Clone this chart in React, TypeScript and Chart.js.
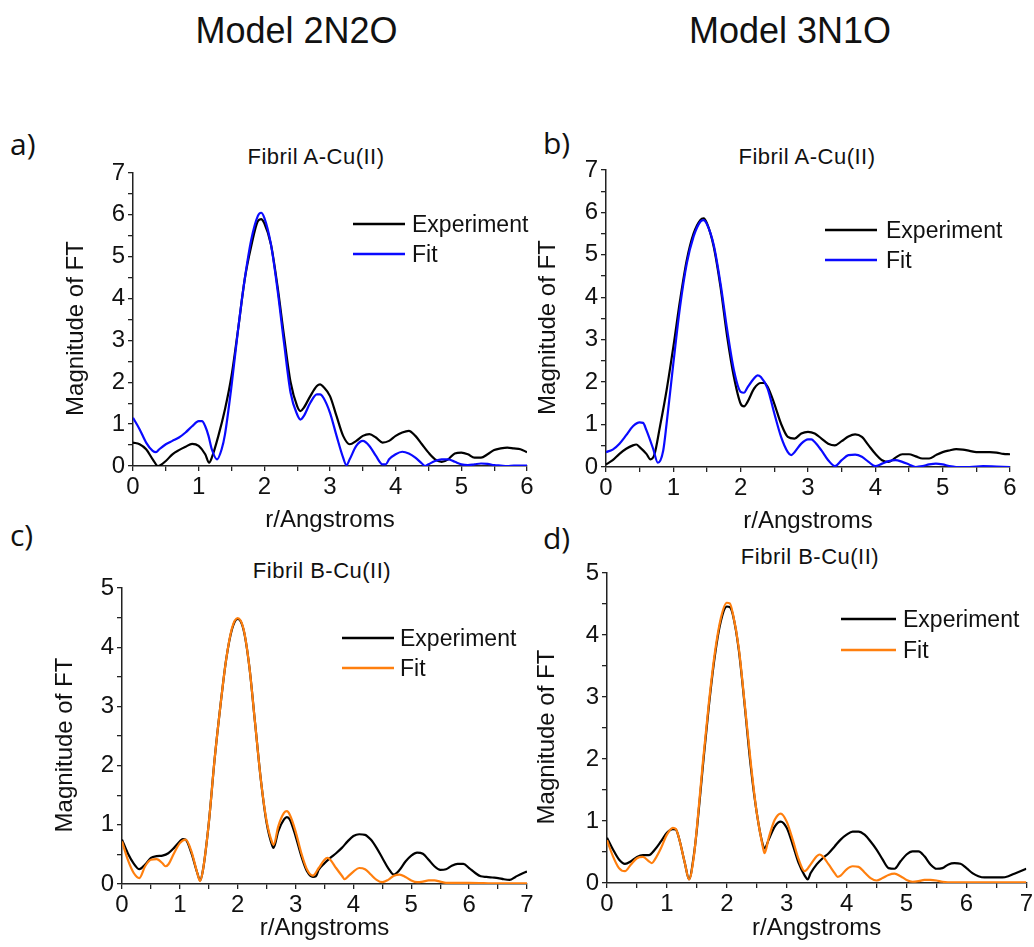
import React, { useEffect, useRef } from 'react';
import { Chart, registerables } from 'chart.js';

Chart.register(...registerables);

// ---------------- Data ----------------
const columnTitles = ['Model 2N2O', 'Model 3N1O'];
const panelLetters = ['a)', 'b)', 'c)', 'd)'];
const panelSubtitles = ['Fibril A-Cu(II)', 'Fibril A-Cu(II)', 'Fibril B-Cu(II)', 'Fibril B-Cu(II)'];
const seriesNames = ['Experiment', 'Fit'];
const xAxisTitle = 'r/Angstroms';
const yAxisTitle = 'Magnitude of FT';

// Panel a (2N2O, Fibril A)
const aExpR = [0,0.1,0.2,0.3,0.38,0.5,0.6,0.7,0.8,0.9,1.0,1.1,1.16,1.2,1.3,1.4,1.5,1.6,1.7,1.8,1.9,1.95,2.0,2.1,2.2,2.3,2.4,2.5,2.55,2.6,2.7,2.8,2.85,2.9,3.0,3.1,3.2,3.3,3.4,3.5,3.6,3.7,3.8,3.9,4.0,4.1,4.2,4.3,4.4,4.5,4.6,4.7,4.8,4.9,5.0,5.1,5.2,5.3,5.4,5.5,5.6,5.7,5.8,5.9,6.0];
const aExpY = [0.56,0.52,0.4,0.16,0.0,0.12,0.28,0.38,0.46,0.53,0.48,0.28,0.08,0.2,0.72,1.35,2.15,3.26,4.45,5.25,5.85,5.9,5.8,5.3,4.3,3.1,2.0,1.43,1.31,1.39,1.67,1.91,1.95,1.89,1.67,1.19,0.72,0.52,0.6,0.72,0.76,0.68,0.56,0.6,0.72,0.8,0.84,0.72,0.52,0.32,0.16,0.1,0.16,0.3,0.32,0.28,0.2,0.2,0.28,0.38,0.42,0.44,0.42,0.4,0.33];
const aFitR = [0,0.1,0.2,0.3,0.35,0.4,0.5,0.6,0.7,0.8,0.9,1.0,1.05,1.1,1.15,1.2,1.28,1.35,1.4,1.5,1.6,1.7,1.8,1.9,1.95,2.0,2.1,2.2,2.3,2.4,2.5,2.55,2.6,2.7,2.8,2.85,2.9,3.0,3.1,3.2,3.25,3.3,3.4,3.5,3.6,3.7,3.8,3.85,3.9,4.0,4.1,4.2,4.3,4.4,4.45,4.5,4.6,4.7,4.8,4.9,5.0,5.1,5.2,5.3,5.4,5.5,5.6,5.7,5.8,6.0];
const aFitY = [1.15,0.88,0.56,0.36,0.33,0.4,0.52,0.6,0.68,0.8,0.95,1.07,1.07,0.95,0.72,0.4,0.16,0.4,0.75,1.91,3.26,4.45,5.4,5.97,6.05,5.93,5.3,4.22,2.94,1.75,1.23,1.11,1.19,1.51,1.71,1.71,1.63,1.27,0.72,0.2,0.02,0.16,0.48,0.6,0.48,0.24,0.04,0.04,0.16,0.28,0.34,0.3,0.2,0.06,0,0.04,0.12,0.16,0.16,0.1,0.04,0.02,0.04,0.06,0.05,0.02,0.01,0,0.01,0.01];

// Panel b (3N1O, Fibril A)
const bExpR = [0,0.1,0.2,0.3,0.4,0.45,0.5,0.6,0.66,0.72,0.8,0.9,1.0,1.1,1.2,1.3,1.4,1.45,1.5,1.6,1.7,1.8,1.9,2.0,2.05,2.1,2.2,2.3,2.35,2.4,2.5,2.6,2.7,2.8,2.9,3.0,3.1,3.2,3.3,3.4,3.5,3.6,3.7,3.8,3.9,4.0,4.1,4.2,4.3,4.4,4.5,4.6,4.7,4.8,4.9,5.0,5.1,5.2,5.3,5.4,5.5,5.6,5.7,5.8,5.9,6.0];
const bExpY = [0.06,0.16,0.31,0.43,0.51,0.53,0.47,0.31,0.18,0.3,0.94,1.81,2.83,3.93,4.88,5.5,5.82,5.86,5.74,5.19,4.25,3.07,2.12,1.49,1.43,1.53,1.85,1.98,1.98,1.89,1.49,1.02,0.71,0.67,0.79,0.83,0.79,0.67,0.55,0.51,0.61,0.72,0.77,0.71,0.51,0.31,0.16,0.12,0.22,0.3,0.3,0.25,0.2,0.2,0.28,0.35,0.39,0.42,0.41,0.38,0.35,0.35,0.35,0.34,0.31,0.3];
const bFitR = [0,0.1,0.2,0.3,0.4,0.5,0.55,0.6,0.7,0.77,0.85,0.9,1.0,1.1,1.2,1.3,1.4,1.45,1.5,1.6,1.7,1.8,1.9,2.0,2.05,2.1,2.2,2.25,2.3,2.4,2.5,2.6,2.7,2.75,2.8,2.9,3.0,3.05,3.1,3.2,3.3,3.4,3.5,3.6,3.7,3.8,3.9,4.0,4.1,4.2,4.3,4.4,4.5,4.6,4.7,4.8,4.9,5.0,5.1,5.2,5.4,5.6,5.8,6.0];
const bFitY = [0.35,0.41,0.55,0.75,0.96,1.05,1.04,0.87,0.43,0.1,0.39,1.02,2.44,3.78,4.8,5.43,5.78,5.82,5.72,5.23,4.33,3.23,2.28,1.77,1.75,1.87,2.09,2.16,2.12,1.85,1.26,0.71,0.35,0.28,0.35,0.55,0.65,0.65,0.59,0.39,0.16,0.02,0.16,0.28,0.29,0.24,0.12,0.02,0.08,0.14,0.16,0.12,0.06,0.0,0.02,0.06,0.08,0.06,0.02,0.0,0.0,0.02,0.01,0.0];

// Panel c (2N2O, Fibril B)
const cExpR = [0,0.1,0.2,0.3,0.4,0.5,0.6,0.7,0.8,0.9,1.0,1.05,1.1,1.2,1.3,1.35,1.4,1.5,1.6,1.7,1.8,1.9,2.0,2.1,2.2,2.3,2.4,2.5,2.6,2.62,2.7,2.8,2.85,2.9,3.0,3.1,3.2,3.3,3.35,3.4,3.5,3.6,3.7,3.8,3.9,4.0,4.1,4.2,4.3,4.4,4.5,4.6,4.7,4.8,4.9,5.0,5.1,5.2,5.3,5.4,5.5,5.6,5.7,5.8,5.9,6.0,6.1,6.2,6.3,6.4,6.5,6.6,6.7,6.8,6.9,7.0];
const cExpY = [0.75,0.52,0.35,0.25,0.33,0.44,0.47,0.48,0.52,0.61,0.72,0.76,0.75,0.52,0.19,0.06,0.24,1.03,2.1,3.0,3.79,4.3,4.48,4.3,3.68,2.72,1.76,1.03,0.64,0.61,0.89,1.09,1.13,1.09,0.81,0.47,0.21,0.12,0.13,0.24,0.35,0.44,0.52,0.61,0.72,0.81,0.84,0.83,0.75,0.61,0.44,0.27,0.16,0.24,0.38,0.48,0.53,0.51,0.41,0.3,0.24,0.25,0.31,0.34,0.34,0.27,0.19,0.13,0.12,0.11,0.1,0.08,0.07,0.12,0.17,0.21];
const cFitR = [0,0.1,0.2,0.3,0.4,0.5,0.6,0.7,0.75,0.8,0.9,1.0,1.1,1.2,1.3,1.35,1.4,1.5,1.6,1.7,1.8,1.9,2.0,2.1,2.2,2.3,2.4,2.5,2.6,2.62,2.7,2.8,2.85,2.9,3.0,3.1,3.2,3.3,3.4,3.5,3.55,3.6,3.7,3.8,3.85,3.9,4.0,4.1,4.2,4.3,4.4,4.5,4.6,4.7,4.8,4.9,5.0,5.1,5.2,5.3,5.4,5.5,5.6,5.8,6.0,6.5,7.0];
const cFitY = [0.72,0.41,0.19,0.1,0.3,0.41,0.42,0.35,0.3,0.33,0.52,0.69,0.75,0.55,0.19,0.05,0.24,1.03,2.1,3.0,3.79,4.32,4.49,4.31,3.68,2.72,1.76,1.06,0.69,0.66,0.97,1.2,1.23,1.17,0.89,0.52,0.24,0.14,0.27,0.41,0.44,0.41,0.27,0.14,0.08,0.12,0.21,0.27,0.25,0.16,0.07,0.03,0.07,0.14,0.16,0.12,0.06,0.03,0.04,0.06,0.06,0.04,0.02,0.02,0.02,0.01,0.01];

// Panel d (3N1O, Fibril B)
const dExpR = [0,0.1,0.2,0.3,0.4,0.5,0.6,0.7,0.8,0.9,1.0,1.1,1.15,1.2,1.3,1.37,1.45,1.5,1.6,1.7,1.8,1.9,2.0,2.05,2.1,2.2,2.3,2.4,2.5,2.6,2.63,2.7,2.8,2.9,3.0,3.1,3.2,3.3,3.35,3.4,3.5,3.6,3.7,3.8,3.9,4.0,4.1,4.2,4.3,4.4,4.5,4.6,4.7,4.8,4.9,5.0,5.1,5.2,5.3,5.4,5.5,5.6,5.7,5.8,5.9,6.0,6.1,6.2,6.3,6.4,6.5,6.6,6.7,6.8,6.9,7.0];
const dExpY = [0.73,0.54,0.38,0.31,0.35,0.42,0.45,0.45,0.54,0.67,0.81,0.87,0.86,0.73,0.32,0.06,0.45,0.86,1.88,2.85,3.66,4.22,4.46,4.45,4.33,3.76,2.85,1.88,1.13,0.62,0.56,0.7,0.91,0.99,0.89,0.62,0.32,0.12,0.06,0.16,0.3,0.4,0.48,0.59,0.7,0.78,0.83,0.83,0.78,0.67,0.54,0.38,0.24,0.23,0.35,0.46,0.51,0.51,0.43,0.3,0.23,0.24,0.3,0.32,0.31,0.24,0.16,0.11,0.09,0.09,0.09,0.09,0.11,0.15,0.19,0.23];
const dFitR = [0,0.1,0.2,0.3,0.4,0.5,0.6,0.7,0.75,0.8,0.9,1.0,1.1,1.15,1.2,1.3,1.37,1.45,1.5,1.6,1.7,1.8,1.9,2.0,2.05,2.1,2.2,2.3,2.4,2.5,2.6,2.63,2.7,2.8,2.9,3.0,3.1,3.2,3.3,3.4,3.5,3.55,3.6,3.7,3.8,3.85,3.9,4.0,4.1,4.2,4.3,4.4,4.5,4.6,4.7,4.8,4.9,5.0,5.1,5.2,5.3,5.4,5.5,5.6,5.8,6.0,6.5,7.0];
const dFitY = [0.69,0.43,0.24,0.19,0.3,0.4,0.42,0.35,0.32,0.38,0.56,0.78,0.89,0.87,0.73,0.32,0.06,0.43,0.89,1.94,2.9,3.71,4.27,4.52,4.51,4.35,3.79,2.88,1.94,1.13,0.59,0.48,0.73,1.02,1.12,0.99,0.7,0.38,0.19,0.3,0.43,0.46,0.43,0.3,0.16,0.1,0.12,0.22,0.27,0.26,0.17,0.08,0.04,0.08,0.13,0.15,0.11,0.05,0.02,0.03,0.05,0.05,0.04,0.02,0.01,0.01,0.01,0.01];

// Axis ranges / ticks
const xMaxTop = 6;
const yMaxTop = 7;
const xMaxBottom = 7;
const yMaxBottom = 5;
const tickStep = 0.5;

// ---------------- Styling / layout ----------------
const FONT = '"Liberation Sans", Arial, sans-serif';
const FONT2 = '"Open Sans", "Liberation Sans", sans-serif';
const EXP_COLOR = '#000000';
const BLUE = '#0a0aff';
const ORANGE = '#ff7f0e';

type PanelCfg = {
  l: number; t: number; r: number; b: number;
  xMax: number; yMax: number;
  hx: number; yTitleX: number; yTitleDy: number; xTitlePad: number; padR: number;
  legend: { x1: number; x2: number; tx: number; y: number; gap: number };
  exp: [number[], number[]];
  fit: [number[], number[]];
  fitColor: string;
};

const panels: PanelCfg[] = [
  { l: 133, t: 173, r: 527, b: 466, xMax: xMaxTop, yMax: yMaxTop, hx: 70, yTitleX: 28, yTitleDy: 9, xTitlePad: 4, padR: 20,
    legend: { x1: 220, x2: 272, tx: 279, y: 51, gap: 30 }, exp: [aExpR, aExpY], fit: [aFitR, aFitY], fitColor: BLUE },
  { l: 606, t: 170, r: 1010, b: 467, xMax: xMaxTop, yMax: yMaxTop, hx: 70, yTitleX: 27, yTitleDy: 9, xTitlePad: 4, padR: 20,
    legend: { x1: 219, x2: 271, tx: 280, y: 60, gap: 30 }, exp: [bExpR, bExpY], fit: [bFitR, bFitY], fitColor: BLUE },
  { l: 122, t: 588, r: 527, b: 884, xMax: xMaxBottom, yMax: yMaxBottom, hx: 60, yTitleX: 28, yTitleDy: 9, xTitlePad: 4, padR: 20,
    legend: { x1: 220, x2: 272, tx: 278, y: 50, gap: 30 }, exp: [cExpR, cExpY], fit: [cFitR, cFitY], fitColor: ORANGE },
  { l: 607, t: 573, r: 1027, b: 883, xMax: xMaxBottom, yMax: yMaxBottom, hx: 60, yTitleX: 25, yTitleDy: 9, xTitlePad: 3, padR: 8,
    legend: { x1: 234, x2: 289, tx: 296, y: 46, gap: 31 }, exp: [dExpR, dExpY], fit: [dFitR, dFitY], fitColor: ORANGE },
];

const Y_AXIS_W = 85;
const PAD_TOP = 20;

function zip(xs: number[], ys: number[]) {
  const n = Math.min(xs.length, ys.length);
  const out: { x: number; y: number }[] = [];
  for (let i = 0; i < n; i++) out.push({ x: xs[i], y: ys[i] });
  return out;
}

function Panel({ cfg }: { cfg: PanelCfg }) {
  const ref = useRef<HTMLCanvasElement | null>(null);
  const left = cfg.l - Y_AXIS_W;
  const top = cfg.t - PAD_TOP;
  const width = cfg.r - cfg.l + Y_AXIS_W + cfg.padR;
  const height = cfg.b - cfg.t + PAD_TOP + cfg.hx;

  useEffect(() => {
    if (!ref.current) return;
    const tickCb = (v: any) => (Number.isInteger(Number(v)) ? String(v) : '');
    const decorPlugin = {
      id: 'panelDecor',
      afterDatasetsDraw(chart: any) {
        const { ctx, chartArea } = chart;
        const L = cfg.legend;
        // legend
        chart.data.datasets.forEach((ds: any, i: number) => {
          const y = chartArea.top + L.y + i * L.gap;
          ctx.save();
          ctx.strokeStyle = ds.borderColor;
          ctx.lineWidth = 2.5;
          ctx.beginPath();
          ctx.moveTo(chartArea.left + L.x1, y);
          ctx.lineTo(chartArea.left + L.x2, y);
          ctx.stroke();
          ctx.fillStyle = '#111';
          ctx.font = `23px ${FONT}`;
          ctx.textBaseline = 'alphabetic';
          ctx.textAlign = 'left';
          ctx.fillText(ds.label, chartArea.left + L.tx, y + 8);
          ctx.restore();
        });
        // y-axis title
        ctx.save();
        ctx.translate(chartArea.left - Y_AXIS_W + cfg.yTitleX, (chartArea.top + chartArea.bottom) / 2 + cfg.yTitleDy);
        ctx.rotate(-Math.PI / 2);
        ctx.fillStyle = '#111';
        ctx.font = `24px ${FONT}`;
        ctx.textAlign = 'center';
        ctx.textBaseline = 'middle';
        ctx.fillText(yAxisTitle, 0, 0);
        ctx.restore();
      },
    };

    const chart = new Chart(ref.current, {
      type: 'line',
      data: {
        datasets: [
          {
            label: seriesNames[0],
            data: zip(cfg.exp[0], cfg.exp[1]),
            borderColor: EXP_COLOR,
            borderWidth: 2.2,
            pointRadius: 0,
            tension: 0.4,
            cubicInterpolationMode: 'monotone',
            order: 1,
          },
          {
            label: seriesNames[1],
            data: zip(cfg.fit[0], cfg.fit[1]),
            borderColor: cfg.fitColor,
            borderWidth: 2.2,
            pointRadius: 0,
            tension: 0.4,
            cubicInterpolationMode: 'monotone',
            order: 0,
          },
        ],
      },
      options: {
        responsive: false,
        animation: false,
        devicePixelRatio: 1,
        layout: { padding: { left: 0, top: PAD_TOP, right: cfg.padR, bottom: 0 } },
        plugins: { legend: { display: false }, tooltip: { enabled: false }, title: { display: false } },
        events: [],
        scales: {
          x: {
            type: 'linear',
            min: 0,
            max: cfg.xMax,
            ticks: {
              stepSize: tickStep,
              autoSkip: false,
              maxRotation: 0,
              color: '#111',
              font: { family: FONT, size: 24 },
              padding: 2,
              callback: tickCb,
            },
            grid: { drawOnChartArea: false, drawTicks: true, tickLength: 5, color: '#222', lineWidth: 1.3 },
            border: { display: true, color: '#222', width: 1.5 },
            title: {
              display: true,
              text: xAxisTitle,
              color: '#111',
              font: { family: FONT, size: 24, lineHeight: 1 },
              padding: { top: 0, bottom: cfg.xTitlePad },
            },
            afterFit: (s: any) => { s.height = cfg.hx; },
          },
          y: {
            type: 'linear',
            min: 0,
            max: cfg.yMax,
            ticks: {
              stepSize: tickStep,
              autoSkip: false,
              color: '#111',
              font: { family: FONT, size: 24 },
              padding: 3,
              callback: tickCb,
            },
            grid: { drawOnChartArea: false, drawTicks: true, tickLength: 5, color: '#222', lineWidth: 1.3 },
            border: { display: true, color: '#222', width: 1.5 },
            title: { display: false, text: yAxisTitle },
            afterFit: (s: any) => { s.width = Y_AXIS_W; },
          },
        },
      } as any,
      plugins: [decorPlugin],
    });
    return () => chart.destroy();
  }, [cfg]);

  return (
    <canvas
      ref={ref}
      width={width}
      height={height}
      style={{ position: 'absolute', left, top, width, height }}
    />
  );
}

function Label({ text, cx, left, baseline, size, family, spacing = 0 }: {
  text: string; cx?: number; left?: number; baseline: number; size: number; family: string; spacing?: number;
}) {
  const ratio = family === FONT2 ? 0.888 : 0.847;
  const top = baseline - ratio * size;
  const style: React.CSSProperties = {
    position: 'absolute',
    top,
    fontFamily: family,
    fontSize: size,
    lineHeight: 1,
    color: '#111',
    whiteSpace: 'nowrap',
    letterSpacing: spacing,
  };
  if (cx !== undefined) {
    style.left = cx - 200;
    style.width = 400;
    style.textAlign = 'center';
  } else {
    style.left = left;
  }
  return <div style={style}>{text}</div>;
}

export default function App() {
  return (
    <div style={{ position: 'absolute', left: 0, top: 0, width: 1034, height: 947, overflow: 'hidden', background: '#fff' }}>
      <Label text={columnTitles[0]} cx={296.5} baseline={43} size={36} family={FONT} />
      <Label text={columnTitles[1]} cx={790} baseline={43} size={36} family={FONT} />

      <Label text={panelLetters[0]} left={10} baseline={156} size={30} family={FONT2} />
      <Label text={panelLetters[1]} left={543} baseline={155} size={30} family={FONT2} />
      <Label text={panelLetters[2]} left={10} baseline={547} size={30} family={FONT2} />
      <Label text={panelLetters[3]} left={543} baseline={550} size={30} family={FONT2} />

      <Label text={panelSubtitles[0]} cx={316} baseline={165} size={22} family={FONT} spacing={0.5} />
      <Label text={panelSubtitles[1]} cx={807} baseline={165} size={22} family={FONT} spacing={0.5} />
      <Label text={panelSubtitles[2]} cx={322} baseline={579} size={22} family={FONT} spacing={0.5} />
      <Label text={panelSubtitles[3]} cx={810} baseline={565} size={22} family={FONT} spacing={0.5} />

      {panels.map((p, i) => (
        <Panel key={i} cfg={p} />
      ))}
    </div>
  );
}
